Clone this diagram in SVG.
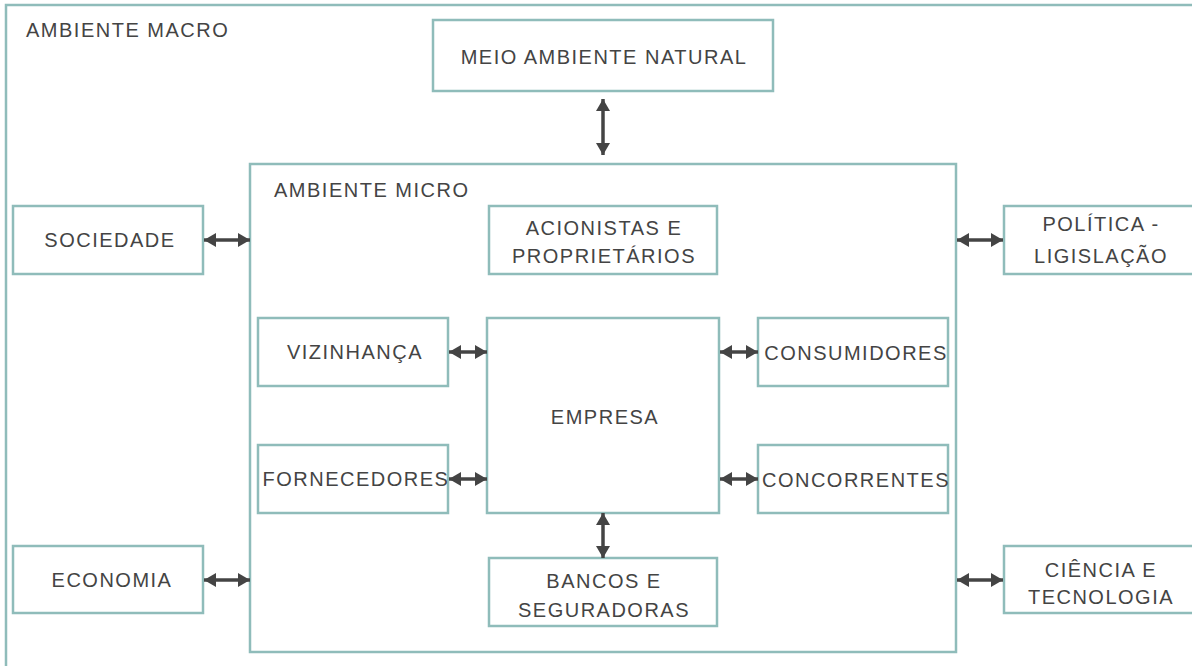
<svg xmlns="http://www.w3.org/2000/svg" width="1192" height="666" viewBox="0 0 1192 666">
<defs>
<marker id="ah" viewBox="0 0 12 14" refX="12" refY="7" markerWidth="12" markerHeight="14" markerUnits="userSpaceOnUse" orient="auto-start-reverse">
<path d="M0,0 L12,7 L0,14 Z" fill="#444"/>
</marker>
</defs>
<style>
.b{fill:#fff;stroke:#8fbcba;stroke-width:2.5}
.f{fill:none;stroke:#8fbcba;stroke-width:2.5}
text{font-family:"Liberation Sans",Arial,sans-serif;font-size:20px;fill:#444;letter-spacing:1.5px}
.c{text-anchor:middle}
.a{fill:none;stroke:#444;stroke-width:3.5;marker-start:url(#ah);marker-end:url(#ah)}
</style>
<g id="macro">
<path class="f" d="M1200,5 L6,5 L6,670"/>
<text x="26" y="37">AMBIENTE MACRO</text>
</g>
<g id="micro">
<rect class="b" x="250" y="164" width="706" height="488"/>
<text x="274" y="197">AMBIENTE MICRO</text>
</g>
<g id="natural">
<rect class="b" x="433" y="20" width="340" height="71"/>
<text class="c" x="604" y="64">MEIO AMBIENTE NATURAL</text>
</g>
<g id="acionistas">
<rect class="b" x="489" y="206" width="228" height="68"/>
<text class="c" x="604" y="235">ACIONISTAS E</text>
<text class="c" x="604" y="263">PROPRIETÁRIOS</text>
</g>
<g id="sociedade">
<rect class="b" x="13" y="206" width="190" height="68"/>
<text class="c" x="110" y="247">SOCIEDADE</text>
</g>
<g id="politica">
<rect class="b" x="1004" y="206" width="200" height="68"/>
<text class="c" x="1101" y="231">POLÍTICA -</text>
<text class="c" x="1101" y="263">LIGISLAÇÃO</text>
</g>
<g id="vizinhanca">
<rect class="b" x="258" y="318" width="190" height="68"/>
<text class="c" x="355" y="359">VIZINHANÇA</text>
</g>
<g id="empresa">
<rect class="b" x="487" y="318" width="232" height="195"/>
<text class="c" x="605" y="424">EMPRESA</text>
</g>
<g id="fornecedores">
<rect class="b" x="258" y="445" width="190" height="68"/>
<text class="c" x="356" y="486">FORNECEDORES</text>
</g>
<g id="consumidores">
<rect class="b" x="758" y="318" width="190" height="68"/>
<text class="c" x="856" y="360">CONSUMIDORES</text>
</g>
<g id="concorrentes">
<rect class="b" x="758" y="445" width="190" height="68"/>
<text class="c" x="856" y="487">CONCORRENTES</text>
</g>
<g id="bancos">
<rect class="b" x="489" y="558" width="228" height="68"/>
<text class="c" x="604" y="588">BANCOS E</text>
<text class="c" x="604" y="617">SEGURADORAS</text>
</g>
<g id="economia">
<rect class="b" x="13" y="546" width="190" height="67"/>
<text class="c" x="112" y="587">ECONOMIA</text>
</g>
<g id="ciencia">
<rect class="b" x="1004" y="546" width="200" height="67"/>
<text class="c" x="1101" y="577">CIÊNCIA E</text>
<text class="c" x="1101" y="604">TECNOLOGIA</text>
</g>
<g id="connectors">
<path class="a" d="M603,99 L603,155"/>
<path class="a" d="M204,240 L250,240"/>
<path class="a" d="M957,240 L1003,240"/>
<path class="a" d="M449,352 L487,352"/>
<path class="a" d="M449,479 L487,479"/>
<path class="a" d="M720,352 L758,352"/>
<path class="a" d="M720,479 L758,479"/>
<path class="a" d="M603,513 L603,558"/>
<path class="a" d="M204,580 L250,580"/>
<path class="a" d="M957,580 L1003,580"/>
</g>
</svg>
